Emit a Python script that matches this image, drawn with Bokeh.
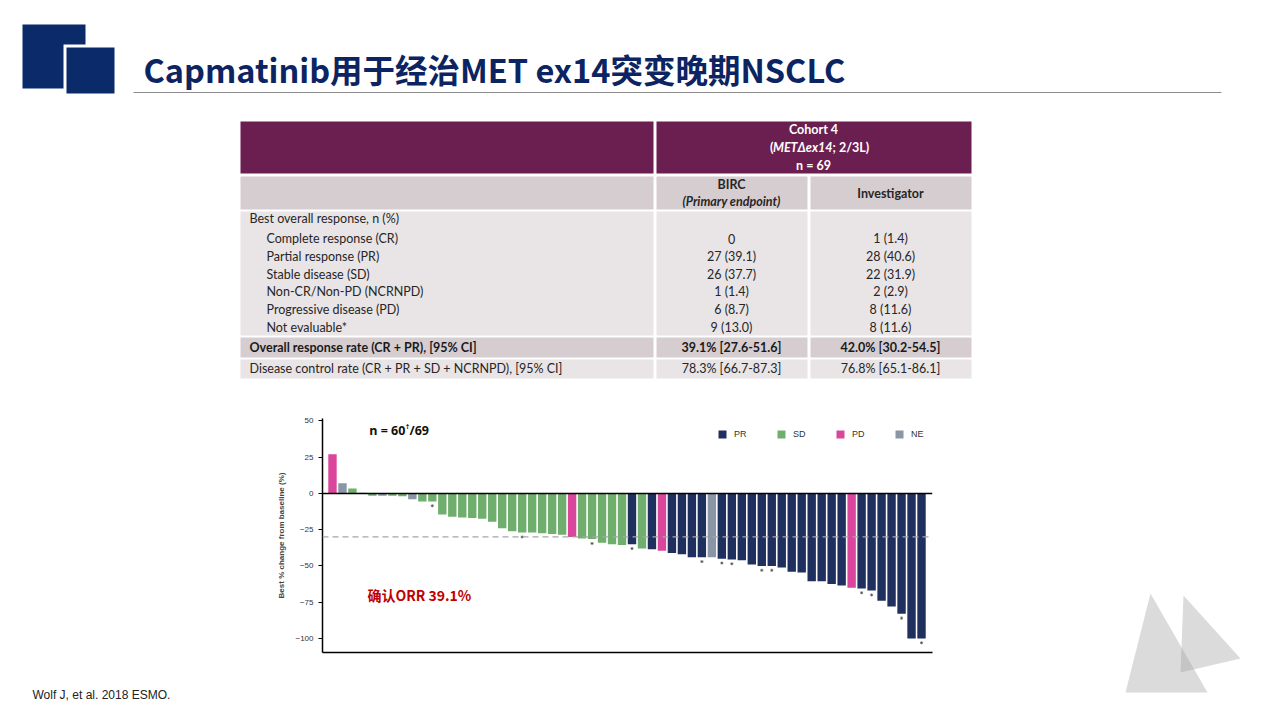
from bokeh.plotting import figure
from bokeh.models import Range1d, Span, Legend, LegendItem, FixedTicker, ColumnDataSource
from bokeh.layouts import column, row
from bokeh.embed import file_html
from bokeh.resources import INLINE
from bokeh.core.properties import value

# ---------------- data ----------------
patients = list(range(1, 61))
best_change = [27, 7, 3.5, 0.5, -1.5, -1.5, -1.5, -2, -4, -5.5,
               -5.5, -14.5, -16, -16.5, -17, -17.5, -19.5, -24, -26, -27,
               -27, -27.5, -28, -28.5, -30, -31, -31.5, -34, -35, -35.5,
               -35, -38, -38.5, -39.5, -41, -42, -44, -44, -44, -45,
               -45.5, -46, -49, -50, -50, -51, -54, -54.5, -60.5, -60.5,
               -62.5, -63.5, -65, -65.5, -67, -74, -78, -83, -100, -100]
response = (["PD", "NE", "SD", "SD", "SD", "NE", "SD", "SD", "NE", "SD", "SD"]
            + ["SD"] * 13 + ["PD"] + ["SD"] * 5
            + ["PR", "SD", "PR", "PD", "PR", "PR", "PR", "PR", "NE"]
            + ["PR"] * 13 + ["PD"] + ["PR"] * 7)
marked_patients = [11, 20, 27, 31, 38, 40, 41, 44, 45, 54, 55, 58, 60]
legend_order = ["PR", "SD", "PD", "NE"]
colors = {"PR": "#1F2F5E", "SD": "#6FAE6C", "PD": "#D9469B", "NE": "#8A95A5"}
y_ticks = [-100, -75, -50, -25, 0, 25, 50]
orr_threshold = -30

title_text = "Capmatinib用于经治MET ex14突变晚期NSCLC"
row_labels = ["Best overall response, n (%)", "Complete response (CR)", "Partial response (PR)",
              "Stable disease (SD)", "Non-CR/Non-PD (NCRNPD)", "Progressive disease (PD)",
              "Not evaluable*"]
birc_vals = ["0", "27 (39.1)", "26 (37.7)", "1 (1.4)", "6 (8.7)", "9 (13.0)"]
inv_vals = ["1 (1.4)", "28 (40.6)", "22 (31.9)", "2 (2.9)", "8 (11.6)", "8 (11.6)"]
orr_row = ["Overall response rate (CR + PR), [95% CI]", "39.1% [27.6-51.6]", "42.0% [30.2-54.5]"]
dcr_row = ["Disease control rate (CR + PR + SD + NCRNPD), [95% CI]", "78.3% [66.7-87.3]", "76.8% [65.1-86.1]"]

LAT = value("Lato")
CJK = value("Noto Sans CJK SC")
ARIAL = value("Liberation Sans")
OS = value("Open Sans")


def blank(w, h, x0, x1, y0, y1):
    f = figure(width=w, height=h, x_range=Range1d(x0, x1), y_range=Range1d(y1, y0),
               output_backend="svg", toolbar_location=None, x_axis_type=None, y_axis_type=None,
               min_border=0, min_border_left=0, min_border_right=0, min_border_top=0,
               min_border_bottom=0, outline_line_color=None, frame_align=False)
    f.grid.visible = False
    f.background_fill_color = "white"
    f.border_fill_color = "white"
    return f


# ---------------- top: logo, title, table ----------------
top = blank(1264, 400, 0, 1264, 0, 400)
navy = "#0B2A6A"
top.quad(left=[22], right=[85], top=[24], bottom=[88], fill_color=navy, line_color=None)
top.quad(left=[63], right=[117], top=[44], bottom=[96], fill_color="white", line_color=None)
top.quad(left=[66], right=[114], top=[47], bottom=[93], fill_color=navy, line_color=None)
top.text(x=[143], y=[68], text=[title_text], text_font=CJK, text_font_style="bold",
         text_font_size="32.5px", text_color="#0C2461", text_baseline="middle")
top.segment(x0=[133], y0=[92], x1=[1221], y1=[92], line_color="#8C8C8C", line_width=1)

purple = "#6B1F51"
hdr2 = "#D6CDD1"
body = "#E9E4E6"
top.quad(left=[240, 656], right=[653, 971], top=[121, 121], bottom=[173, 173], fill_color=purple, line_color=None)
top.quad(left=[240, 656, 810], right=[653, 807, 971], top=[176] * 3, bottom=[209] * 3, fill_color=hdr2, line_color=None)
top.quad(left=[240, 656, 810], right=[653, 807, 971], top=[211] * 3, bottom=[335] * 3, fill_color=body, line_color=None)
top.quad(left=[240, 656, 810], right=[653, 807, 971], top=[337] * 3, bottom=[357] * 3, fill_color=hdr2, line_color=None)
top.quad(left=[240, 656, 810], right=[653, 807, 971], top=[359] * 3, bottom=[378] * 3, fill_color=body, line_color=None)

top.text(x=[813, 813], y=[129, 165], text=["Cohort 4", "n = 69"], text_font=LAT, text_font_style="bold",
         text_font_size="12.5px", text_color="white", text_align="center", text_baseline="middle")
top.text(x=[773], y=[147], text=["("], text_font=LAT, text_font_style="bold",
         text_font_size="12.5px", text_color="white", text_align="right", text_baseline="middle")
top.text(x=[832], y=[147], text=["METΔex14"], text_font=LAT, text_font_style="bold italic",
         text_font_size="12.5px", text_color="white", text_align="right", text_baseline="middle")
top.text(x=[832], y=[147], text=["; 2/3L)"], text_font=LAT, text_font_style="bold",
         text_font_size="12.5px", text_color="white", text_align="left", text_baseline="middle")
top.text(x=[731, 890], y=[184, 193], text=["BIRC", "Investigator"], text_font=LAT, text_font_style="bold",
         text_font_size="12.5px", text_color="#262626", text_align="center", text_baseline="middle")
top.text(x=[731], y=[201], text=["(Primary endpoint)"], text_font=LAT, text_font_style="bold italic",
         text_font_size="12.5px", text_color="#262626", text_align="center", text_baseline="middle")

row_y = [218, 238, 256, 274, 291, 309, 327]
row_x = [249] + [266] * 6
top.text(x=row_x, y=row_y, text=row_labels, text_font=LAT, text_font_size="12.5px",
         text_color="#262626", text_baseline="middle")
top.text(x=[731] * 6, y=row_y[1:], text=birc_vals, text_font=LAT, text_font_size="12.5px",
         text_color="#262626", text_align="center", text_baseline="middle")
top.text(x=[890] * 6, y=row_y[1:], text=inv_vals, text_font=LAT, text_font_size="12.5px",
         text_color="#262626", text_align="center", text_baseline="middle")
top.text(x=[249, 731, 890], y=[347] * 3, text=orr_row, text_font=LAT, text_font_style="bold",
         text_font_size="12.5px", text_color="#1A1A1A", text_align=["left", "center", "center"],
         text_baseline="middle")
top.text(x=[249, 731, 890], y=[368] * 3, text=dcr_row, text_font=LAT,
         text_font_size="12.5px", text_color="#262626", text_align=["left", "center", "center"],
         text_baseline="middle")

# ---------------- left: footer ----------------
left = blank(260, 304, 0, 260, 400, 704)
left.text(x=[32], y=[694], text=["Wolf J, et al. 2018 ESMO."], text_font=ARIAL, text_font_size="12px",
          text_color="#222222", text_baseline="middle")

# ---------------- right: decorative triangles ----------------
right = blank(319, 304, 945, 1264, 400, 704)
right.patches(xs=[[1150, 1125, 1207], [1183, 1180, 1240]], ys=[[593, 692, 692], [595, 672, 658]],
              fill_color="#A4A4A4", fill_alpha=0.4, line_color=None)

# ---------------- waterfall chart ----------------
p = figure(width=685, height=304, x_range=Range1d(0.0, 61.1), y_range=Range1d(-109.7, 51.7),
           output_backend="svg", toolbar_location=None, frame_align=False,
           min_border_left=62, min_border_right=13, min_border_top=18, min_border_bottom=52,
           outline_line_color=None)
p.grid.visible = False
p.background_fill_color = "white"
p.border_fill_color = "white"

items = []
for cat in legend_order:
    xs = [pt for pt, r in zip(patients, response) if r == cat]
    ys = [v for v, r in zip(best_change, response) if r == cat]
    src = ColumnDataSource(dict(x=xs, top=ys))
    rr = p.vbar(x="x", top="top", bottom=0, width=0.84, source=src, fill_color=colors[cat], line_color=None)
    items.append(LegendItem(label=cat, renderers=[rr]))

mx = [pt for pt in patients if pt in marked_patients]
my = [best_change[pt - 1] - 3 for pt in mx]
p.scatter(x=mx, y=my, marker="asterisk", size=3, line_color="#555555", line_width=0.8)

p.add_layout(Span(location=0, dimension="width", line_color="black", line_width=1.5))
p.add_layout(Span(location=orr_threshold, dimension="width", line_color="#A6A6A6", line_width=1.3,
                  line_dash="6 4"))

p.yaxis.ticker = FixedTicker(ticks=y_ticks)
p.yaxis.major_label_text_font = "Liberation Sans"
p.yaxis.major_label_text_font_size = "8px"
p.yaxis.major_label_text_color = "#333333"
p.yaxis.major_tick_out = 4
p.yaxis.major_tick_in = 0
p.yaxis.minor_tick_line_color = None
p.yaxis.axis_line_width = 1.5
p.yaxis.axis_label = "Best % change from baseline (%)"
p.yaxis.axis_label_text_font = "Liberation Sans"
p.yaxis.axis_label_text_font_size = "8px"
p.yaxis.axis_label_text_font_style = "bold"
p.yaxis.axis_label_standoff = 6
p.xaxis.ticker = FixedTicker(ticks=[])
p.xaxis.major_tick_line_color = None
p.xaxis.minor_tick_line_color = None
p.xaxis.axis_line_width = 1.5

p.text(x=[8.3], y=[43.4], text=["n = 60"], text_font=OS, text_font_style="bold",
       text_font_size="12.5px", text_color="#111111", text_align="right", text_baseline="middle")
p.text(x=[8.35], y=[46.5], text=["†"], text_font=OS, text_font_style="bold",
       text_font_size="7px", text_color="#111111", text_baseline="middle")
p.text(x=[8.72], y=[43.4], text=["/69"], text_font=OS, text_font_style="bold",
       text_font_size="12.5px", text_color="#111111", text_baseline="middle")
p.text(x=[4.5], y=[-69.7], text=["确认ORR 39.1%"], text_font=CJK, text_font_style="bold",
       text_font_size="14px", text_color="#C00000", text_baseline="middle")

legend = Legend(items=items, orientation="horizontal", location=(395, 213),
                label_text_font="Liberation Sans", label_text_font_size="9px", label_text_color="#333333",
                glyph_width=10, glyph_height=10, label_standoff=7, spacing=22, padding=0, margin=0,
                border_line_color=None, background_fill_alpha=0)
p.add_layout(legend)

layout = column(top, row(left, p, right))
open("out.html", "w").write(file_html(layout, INLINE))
